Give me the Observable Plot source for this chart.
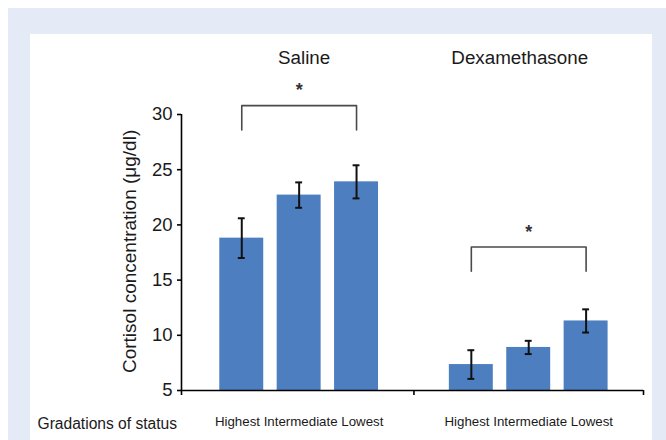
<!DOCTYPE html>
<html>
<head>
<meta charset="utf-8">
<script src="https://cdn.jsdelivr.net/npm/d3@7"></script>
<script src="https://cdn.jsdelivr.net/npm/@observablehq/plot@0.6"></script>
<style>
  html, body { margin: 0; padding: 0; background: #ffffff; }
  #page { position: relative; width: 666px; height: 440px; overflow: hidden; }
  #bg { position: absolute; left: 8px; top: 8px; width: 658px; height: 432px; background: #e4ebf6; }
  #panel { position: absolute; left: 30px; top: 34px; width: 622px; height: 406px; background: #ffffff; }
  #chart { position: absolute; left: 0; top: 0; }
  #chart svg { background: transparent; font-family: "Liberation Sans", Arial, Helvetica, sans-serif; }
</style>
</head>
<body>
<div id="page">
  <div id="bg"></div>
  <div id="panel"></div>
  <div id="chart"></div>
</div>
<script>
// ---- data ----
const groups = ["Saline", "Dexamethasone"];
const statusLevels = ["Highest", "Intermediate", "Lowest"];
const salineMeans = [18.8, 22.7, 23.9];
const salineErrors = [1.8, 1.15, 1.5];
const dexaMeans = [7.35, 8.9, 11.3];
const dexaErrors = [1.3, 0.6, 1.05];
const yTicks = [5, 10, 15, 20, 25, 30];
const sigTop = [30.8, 18.0];     // bracket bar level per group
const sigDrop = 2.2;             // bracket leg length
const sigLabel = ["*", "*"];
const rowLabel = "Gradations of status";
const yLabel = "Cortisol concentration (\u03bcg/dl)";

// ---- build table ----
const means = [salineMeans, dexaMeans];
const errs = [salineErrors, dexaErrors];
const slots = statusLevels.length + 1;
const rows = [];
groups.forEach((g, gi) => statusLevels.forEach((s, si) => {
  rows.push({group: g, status: s, pos: gi * slots + si, mean: means[gi][si], err: errs[gi][si]});
}));
const groupCenter = gi => gi * slots + (statusLevels.length - 1) / 2;
const half = 0.383;
const capHalf = 0.06;
const xMin = -1.05, xMax = slots * groups.length - 1;
const boundaries = [xMin, slots - 1, xMax];

const brackets = [];
groups.forEach((g, gi) => {
  const a = gi * slots, b = gi * slots + statusLevels.length - 1;
  brackets.push({group: g, pts: [[a, sigTop[gi] - sigDrop], [a, sigTop[gi]], [b, sigTop[gi]], [b, sigTop[gi] - sigDrop]]});
});
const bracketPts = brackets.flatMap(b => b.pts.map(p => ({group: b.group, x: p[0], y: p[1]})));

const font = "'Liberation Sans', Arial, Helvetica, sans-serif";
const ink = "#1a1a1a";

const chart = Plot.plot({
  width: 666,
  height: 440,
  marginLeft: 181,
  marginRight: 23,
  marginTop: 114,
  marginBottom: 50,
  style: {fontFamily: font, background: "transparent", overflow: "visible"},
  x: {domain: [xMin, xMax], axis: null},
  y: {domain: [5, 30], axis: null},
  marks: [
    Plot.rectY(rows, {x1: d => d.pos - half, x2: d => d.pos + half, y1: 5, y2: "mean", fill: "#4d7fc0"}),
    // error bars
    Plot.ruleX(rows, {x: "pos", y1: d => d.mean - d.err, y2: d => d.mean + d.err, stroke: "#111", strokeWidth: 2}),
    Plot.ruleY(rows, {y: d => d.mean + d.err, x1: d => d.pos - capHalf, x2: d => d.pos + capHalf, stroke: "#111", strokeWidth: 2}),
    Plot.ruleY(rows, {y: d => d.mean - d.err, x1: d => d.pos - capHalf, x2: d => d.pos + capHalf, stroke: "#111", strokeWidth: 2}),
    // y axis
    Plot.ruleX([xMin], {y1: 5, y2: 30, stroke: "#000", strokeWidth: 1.6}),
    Plot.axisY(yTicks, {anchor: "left", tickSize: 4, tickPadding: 5, fontSize: 18.5, stroke: "#000", strokeWidth: 1.6, fill: ink, label: null}),
    Plot.text([yLabel], {x: xMin, y: 17.6, dx: -52, rotate: -90, fontSize: 19, fill: ink, fontFamily: font}),
    // x axis
    Plot.ruleY([5], {x1: xMin, x2: xMax, stroke: "#000", strokeWidth: 1.6}),
    Plot.ruleX(boundaries, {x: d => d, y1: 5, y2: 5, insetBottom: -5, stroke: "#000", strokeWidth: 1.6}),
    // status tick labels
    Plot.text(groups, {x: (g, i) => groupCenter(i), y: 5, dy: 31, text: () => statusLevels.join(" "), fontSize: 13.3, fill: ink, fontFamily: font}),
    Plot.text([rowLabel], {x: xMin, y: 5, dx: -144, dy: 33, textAnchor: "start", fontSize: 15.6, fill: ink, fontFamily: font}),
    // group titles
    Plot.text([groups[0]], {x: groupCenter(0), y: 30, dy: -57, dx: 5, fontSize: 18.8, fill: ink, fontFamily: font}),
    Plot.text([groups[1]], {x: groupCenter(1), y: 30, dy: -57, dx: -9, fontSize: 18.8, fill: ink, fontFamily: font}),
    // significance brackets
    Plot.line(bracketPts, {x: "x", y: "y", z: "group", stroke: "#4a4a4a", strokeWidth: 1.6}),
    Plot.text(groups, {x: (g, i) => groupCenter(i), y: (g, i) => sigTop[i], dy: -15, text: (g, i) => sigLabel[i], fontSize: 18, fontWeight: "bold", fill: "#333", fontFamily: font})
  ]
});
document.getElementById("chart").appendChild(chart);
</script>
</body>
</html>
